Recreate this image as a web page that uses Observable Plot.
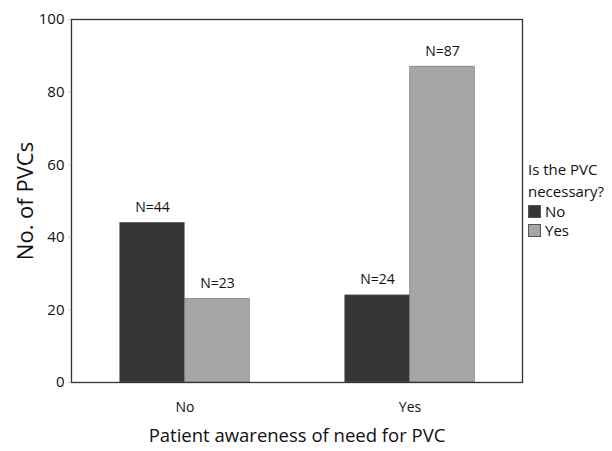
<!DOCTYPE html>
<html>
<head>
<meta charset="utf-8">
<script src="https://cdn.jsdelivr.net/npm/d3@7"></script>
<script src="https://cdn.jsdelivr.net/npm/@observablehq/plot@0.6"></script>
<style>
  html, body { margin: 0; padding: 0; background: #fff; }
  #wrap { position: relative; width: 612px; height: 451px; font-family: "Open Sans", sans-serif; }
  #legend { position: absolute; left: 528px; top: 158px; font-size: 15px; color: #111; line-height: 22px; }
  .sw { display: inline-block; width: 11px; height: 11px; border: 1px solid #555; margin-right: 4px; vertical-align: -1px; }
  .row { line-height: 19px; }
</style>
</head>
<body>
<div id="wrap"></div>
<script>
const awareness = ["No", "Yes"];
const necessary = ["No", "Yes"];
const countsNecNo = [44, 24];
const countsNecYes = [23, 87];
const yTicks = [0, 20, 40, 60, 80, 100];
const colors = ["#363636", "#a6a6a6"];
const legendTitle = ["Is the PVC", "necessary?"];

const data = [];
awareness.forEach((a, i) => {
  data.push({awareness: a, necessary: "No", count: countsNecNo[i]});
  data.push({awareness: a, necessary: "Yes", count: countsNecYes[i]});
});
const dNo = data.filter(d => d.necessary === "No");
const dYes = data.filter(d => d.necessary === "Yes");

const barW = 65;
const band = 225.5;
const common = {x: "awareness", y: "count", fill: "necessary", stroke: "#666", strokeWidth: 0.6,
  insetLeft: (band - barW) / 2, insetRight: (band - barW) / 2};

const chart = Plot.plot({
  width: 612,
  height: 451,
  marginLeft: 71,
  marginRight: 90,
  marginTop: 19,
  marginBottom: 69,
  style: {fontFamily: "Open Sans, sans-serif", fontSize: "14px", color: "#111", background: "#fff"},
  x: {domain: awareness, padding: 0, label: null},
  y: {domain: [0, 100], label: null},
  color: {domain: necessary, range: colors},
  marks: [
    Plot.barY(dNo, {...common, dx: -barW / 2}),
    Plot.barY(dYes, {...common, dx: barW / 2}),
    Plot.text(dNo, {x: "awareness", y: "count", text: d => "N=" + d.count, dx: -barW / 2, dy: -11, lineAnchor: "bottom", fontSize: 14}),
    Plot.text(dYes, {x: "awareness", y: "count", text: d => "N=" + d.count, dx: barW / 2, dy: -11, lineAnchor: "bottom", fontSize: 14}),
    Plot.frame({stroke: "#333", strokeWidth: 1.3}),
    Plot.axisY({ticks: yTicks, tickSize: 3, tickPadding: 4, fontSize: 15, label: null, stroke: "#ccc"}),
    Plot.axisX({tickSize: 0, tickPadding: 20, fontSize: 14, label: null}),
    Plot.text(["No. of PVCs"], {frameAnchor: "left", textAnchor: "middle", dx: -46, rotate: -90, fontSize: 22, text: d => d}),
    Plot.text(["Patient awareness of need for PVC"], {frameAnchor: "bottom", dy: 59, fontSize: 18.5, text: d => d})
  ]
});
const wrap = document.getElementById("wrap");
wrap.appendChild(chart);

const leg = document.createElement("div");
leg.id = "legend";
leg.innerHTML = legendTitle.map(t => `<div>${t}</div>`).join("") +
  necessary.map((n, i) => `<div class="row"><span class="sw" style="background:${colors[i]}"></span>${n}</div>`).join("");
wrap.appendChild(leg);
</script>
</body>
</html>
